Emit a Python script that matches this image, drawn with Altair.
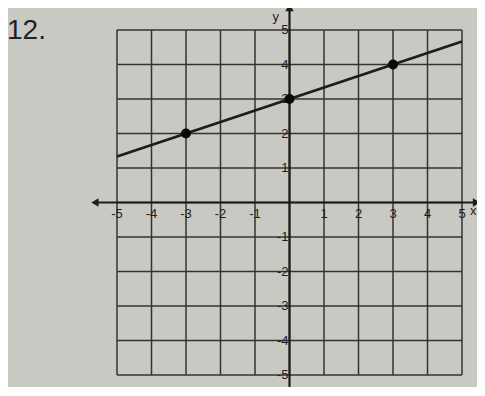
import altair as alt
import pandas as pd

# ---- data ----
grid_vals = [-5, -4, -3, -2, -1, 0, 1, 2, 3, 4, 5]
x_tick_vals = [-5, -4, -3, -2, -1, 1, 2, 3, 4, 5]
y_tick_vals = [5, 4, 3, 2, 1, -1, -2, -3, -4, -5]
pts_x = [-3, 0, 3]
pts_y = [2, 3, 4]
line_x = [-5, 5]
line_y = [4 / 3, 14 / 3]
x_axis_extent = [-5.64, 5.42]
y_axis_extent = [-5.45, 5.65]

X = alt.Scale(domain=[-5, 5], nice=False, zero=False)
Y = alt.Scale(domain=[-5, 5], nice=False, zero=False)
ink = "#1c1c1c"
FONT = "Liberation Sans"

grid_df = pd.DataFrame({"v": grid_vals})
vgrid = alt.Chart(grid_df).mark_rule(color="#333333", strokeWidth=1.5).encode(
    x=alt.X("v:Q", scale=X, axis=None),
    y=alt.value(0), y2=alt.value(345),
)
hgrid = alt.Chart(grid_df).mark_rule(color="#333333", strokeWidth=1.5).encode(
    y=alt.Y("v:Q", scale=Y, axis=None),
    x=alt.value(0), x2=alt.value(345),
)

xaxis_df = pd.DataFrame({"x1": [x_axis_extent[0]], "x2": [x_axis_extent[1]], "y": [0]})
xaxis = alt.Chart(xaxis_df).mark_rule(color=ink, strokeWidth=2.2).encode(
    x=alt.X("x1:Q", scale=X), x2="x2:Q", y=alt.Y("y:Q", scale=Y)
)
yaxis_df = pd.DataFrame({"y1": [y_axis_extent[0]], "y2": [y_axis_extent[1]], "x": [0]})
yaxis = alt.Chart(yaxis_df).mark_rule(color=ink, strokeWidth=2.2).encode(
    y=alt.Y("y1:Q", scale=Y), y2="y2:Q", x=alt.X("x:Q", scale=X)
)

arrows_df = pd.DataFrame({
    "x": [x_axis_extent[0], x_axis_extent[1], 0, 0],
    "y": [0, 0, y_axis_extent[1], y_axis_extent[0]],
    "s": ["triangle-left", "triangle-right", "triangle-up", "triangle-down"],
})
arrows = alt.Chart(arrows_df).mark_point(filled=True, opacity=1, color=ink, size=70).encode(
    x=alt.X("x:Q", scale=X), y=alt.Y("y:Q", scale=Y),
    shape=alt.Shape("s:N", scale=None, legend=None),
)

xl_df = pd.DataFrame({"x": x_tick_vals, "y": [0] * len(x_tick_vals), "t": [str(v) for v in x_tick_vals]})
xlabels = alt.Chart(xl_df).mark_text(font=FONT, fontSize=13, color="#1e1e1e", dy=11, align="center").encode(
    x=alt.X("x:Q", scale=X), y=alt.Y("y:Q", scale=Y), text="t:N"
)
yl_df = pd.DataFrame({"x": [0] * len(y_tick_vals), "y": y_tick_vals, "t": [str(v) for v in y_tick_vals]})
ylabels = alt.Chart(yl_df).mark_text(font=FONT, fontSize=13, color="#1e1e1e", dx=-1, align="right", baseline="middle").encode(
    x=alt.X("x:Q", scale=X), y=alt.Y("y:Q", scale=Y), text="t:N"
)

y_name = alt.Chart(pd.DataFrame({"x": [-0.4], "y": [5.38], "t": ["y"]})).mark_text(
    font=FONT, fontSize=13, color="#1e1e1e"
).encode(x=alt.X("x:Q", scale=X), y=alt.Y("y:Q", scale=Y), text="t:N")
x_name = alt.Chart(pd.DataFrame({"x": [5.45], "y": [-0.25], "t": ["x"]})).mark_text(
    font=FONT, fontSize=13, color="#1e1e1e", align="right", dx=-1
).encode(x=alt.X("x:Q", scale=X), y=alt.Y("y:Q", scale=Y), text="t:N")

line_df = pd.DataFrame({"x": line_x, "y": line_y})
line = alt.Chart(line_df).mark_line(color=ink, strokeWidth=2.6).encode(
    x=alt.X("x:Q", scale=X), y=alt.Y("y:Q", scale=Y)
)
pts_df = pd.DataFrame({"x": pts_x, "y": pts_y})
points = alt.Chart(pts_df).mark_circle(color="#0a0a0a", opacity=1, size=100).encode(
    x=alt.X("x:Q", scale=X), y=alt.Y("y:Q", scale=Y)
)

num_df = pd.DataFrame({"t": ["12."]})
number = alt.Chart(num_df).mark_text(font=FONT, fontSize=28, color="#222", align="left", baseline="middle").encode(
    x=alt.value(-110), y=alt.value(1), text="t:N"
)

chart = alt.layer(
    vgrid, hgrid, line, xaxis, yaxis, arrows, xlabels, ylabels, y_name, x_name, points, number
).properties(
    width=345, height=345,
    autosize=alt.AutoSizeParams(type="none"),
    padding={"left": 109, "top": 22, "right": 15, "bottom": 12},
).configure(background="#c9c9c3").configure_view(stroke=None)

chart.save("out.html", embed_options={"renderer": "svg", "actions": False})
